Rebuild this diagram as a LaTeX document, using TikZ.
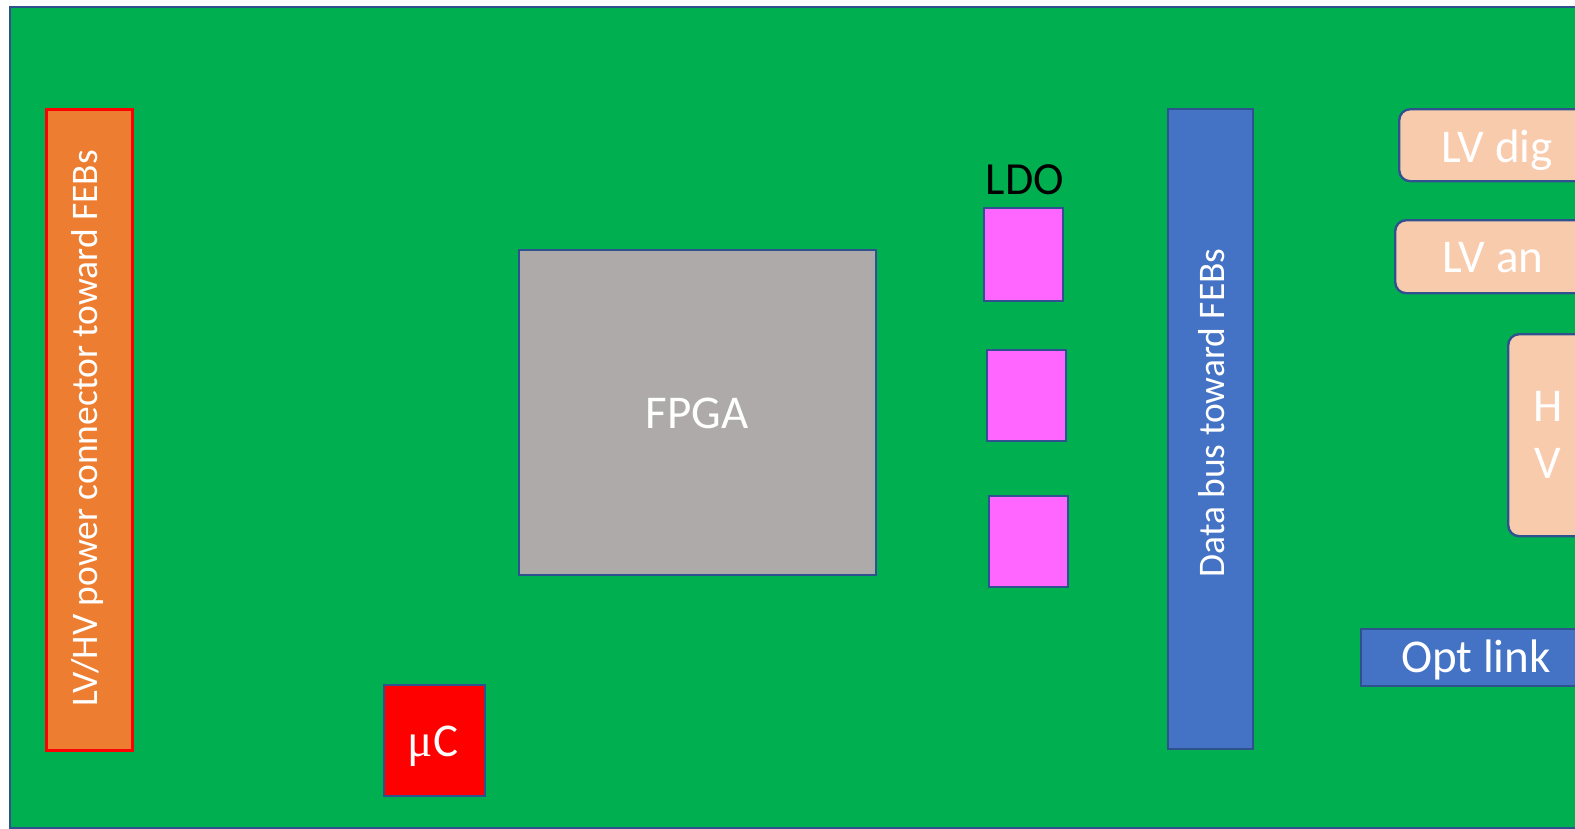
\documentclass[tikz,border=0pt]{standalone}
\usepackage{fontspec}
\setmainfont{Carlito}
\newfontfamily\mufont{Liberation Serif}
\definecolor{boardgreen}{HTML}{00B050}
\definecolor{edgeblue}{HTML}{2F528F}
\definecolor{conorange}{HTML}{ED7D31}
\definecolor{fpgagray}{HTML}{AEAAAA}
\definecolor{ldopink}{HTML}{FF66FF}
\definecolor{busblue}{HTML}{4472C4}
\definecolor{peach}{HTML}{F8CBAD}
\definecolor{mcred}{HTML}{FF0000}
\tikzset{
  part/.style={draw=edgeblue, line width=2.4pt, inner sep=0pt, anchor=north west},
  bigtxt/.style={text=white, font=\fontsize{47}{57}\selectfont},
  vtxt/.style={text=white, font=\fontsize{37.5}{45}\selectfont, rotate=90},
  soft/.style={part, fill=peach, rounded corners=11pt},
}
\begin{document}
\begin{tikzpicture}[x=1pt,y=-1pt]
\useasboundingbox (0,0) rectangle (1575,828);
\clip (0,0) rectangle (1575,828);
\fill[white] (0,0) rectangle (1575,828);
% board
\node[part, fill=boardgreen, minimum width=1600pt, minimum height=821pt] (board) at (8.5,5.5) {};
% power connector
\node[part, draw=mcred, line width=3pt, fill=conorange, minimum width=86pt, minimum height=641pt] (pwr) at (44.5,107.5) {};
\node[vtxt] (pwrtxt) at (88,428) {LV/HV power connector toward FEBs};
% FPGA
\node[part, fill=fpgagray, minimum width=357pt, minimum height=325pt] (fpga) at (518,249) {};
\node[bigtxt] (fpgatxt) at (697,413) {FPGA};
% LDOs
\node[font=\fontsize{46}{54}\selectfont, text=black] (ldotxt) at (1025,180) {LDO};
\node[part, fill=ldopink, minimum width=79pt, minimum height=93pt] (ldo1) at (983,207) {};
\node[part, fill=ldopink, minimum width=79pt, minimum height=91pt] (ldo2) at (986,349) {};
\node[part, fill=ldopink, minimum width=79pt, minimum height=91pt] (ldo3) at (988,495) {};
% data bus
\node[part, fill=busblue, minimum width=85pt, minimum height=640pt] (bus) at (1167,108) {};
\node[vtxt] (bustxt) at (1212,413) {Data bus toward FEBs};
% micro controller
\node[part, fill=mcred, minimum width=101pt, minimum height=111pt] (mc) at (383,684) {};
\node[bigtxt] (mctxt) at (433,746) {{\mufont μ}C};
% LV / HV modules
\node[soft, minimum width=200pt, minimum height=72pt] (lvdig) at (1398,108) {};
\node[bigtxt] (lvdigtxt) at (1497,150) {LV dig};
\node[soft, minimum width=200pt, minimum height=73pt] (lvan) at (1394,219) {};
\node[bigtxt] (lvantxt) at (1493,258) {LV an};
\node[soft, minimum width=100pt, minimum height=202pt] (hv) at (1507,333) {};
\node[bigtxt, align=center] (hvtxt) at (1548,435) {H\\V};
% optical link
\node[part, fill=busblue, minimum width=240pt, minimum height=57pt] (opt) at (1360,628) {};
\node[bigtxt] (opttxt) at (1476,660) {Opt link};
\end{tikzpicture}
\end{document}
